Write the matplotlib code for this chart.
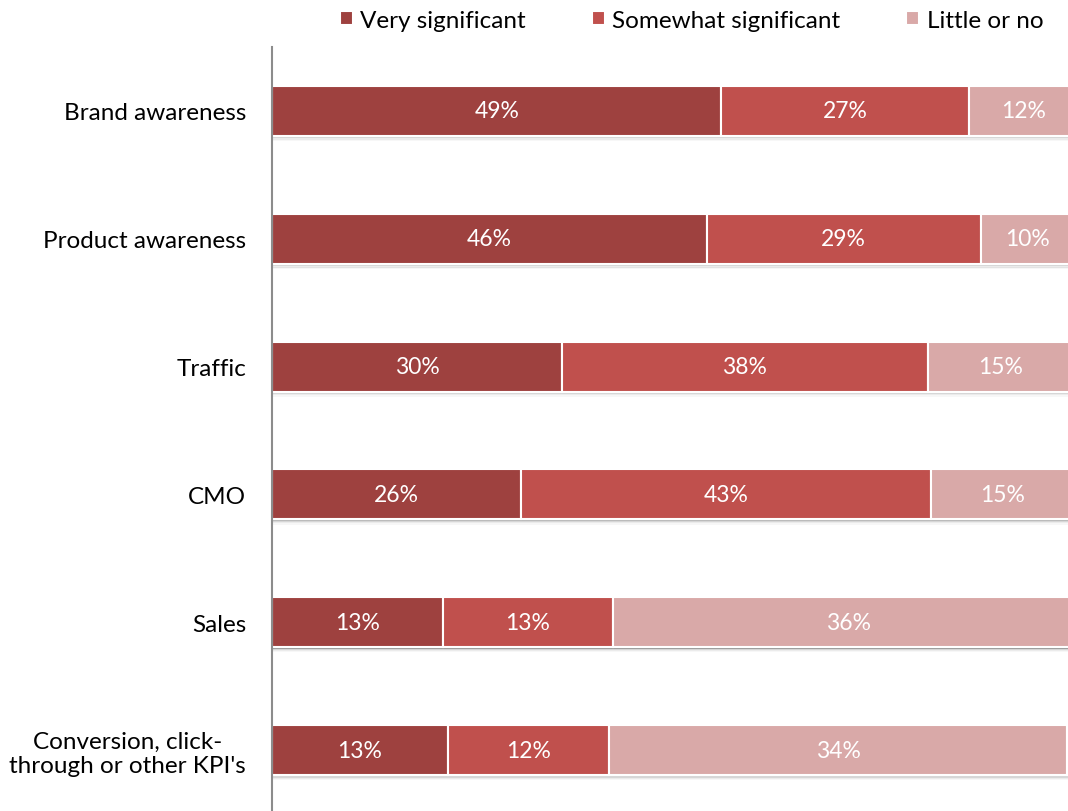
import matplotlib
matplotlib.use("Agg")
import matplotlib.pyplot as plt
import numpy as np

plt.rcParams['font.family'] = ['Lato', 'DejaVu Sans']

categories = ["Brand awareness", "Product awareness", "Traffic", "CMO", "Sales",
              "Conversion, click-\nthrough or other KPI's"]
series_names = ["Very significant", "Somewhat significant", "Little or no", "Don't know"]
very = [49, 46, 30, 26, 13, 13]
somewhat = [27, 29, 38, 43, 13, 12]
little = [12, 10, 15, 15, 36, 34]
dont_know = [12, 12, 12, 12, 8, 9]   # last segment, cut off at the right edge

colors = ["#9E413F", "#C0504D", "#D9A9A8", "#E6C5C4"]

values = np.array([very, somewhat, little, dont_know], dtype=float)
shares = values / values.sum(axis=0) * 100   # 100% stacked

fig = plt.figure(figsize=(10.68, 8.12), dpi=100)
ax = fig.add_axes([0.2551, -0.0037, 0.8577, 0.9446])

y = np.arange(len(categories))
bar_h = 0.39

# soft shadow under each bar
for k, a in enumerate([0.28, 0.16, 0.08, 0.03]):
    ax.barh(y + bar_h / 2 + 0.01 * k + 0.005, 100, height=0.011, left=0,
            color="black", alpha=a, linewidth=0, zorder=1)

left = np.zeros(len(categories))
for i in range(len(series_names)):
    lbl = series_names[i] if i < 3 else "_nolegend_"
    ax.barh(y, shares[i], left=left, height=bar_h, color=colors[i],
            edgecolor="white", linewidth=1.5, label=lbl, zorder=2)
    if i < 3:
        for j in range(len(categories)):
            ax.text(left[j] + shares[i][j] / 2, y[j], f"{int(values[i][j])}%",
                    ha="center", va="center", color="white", fontsize=16.5, zorder=3)
    left += shares[i]

ax.set_xlim(0, 100)
ax.set_ylim(len(categories) - 0.5, -0.5)
ax.set_yticks(y)
ax.set_yticklabels(categories, fontsize=17.5)
for t in ax.get_yticklabels():
    t.set_multialignment("center")
    t.set_linespacing(1.15)
ax.tick_params(axis="y", length=0, pad=19)
ax.set_xticks([])
for s in ["top", "right", "bottom"]:
    ax.spines[s].set_visible(False)
ax.spines["left"].set_color("#8C8C8C")
ax.spines["left"].set_linewidth(1.5)

fig.legend(loc="center left", bbox_to_anchor=(0.309, 0.974), ncol=3, frameon=False,
           fontsize=17.5, handlelength=0.55, handleheight=0.55, handletextpad=0.3,
           columnspacing=2.7, borderaxespad=0)

fig.savefig("out.png", dpi=100)
